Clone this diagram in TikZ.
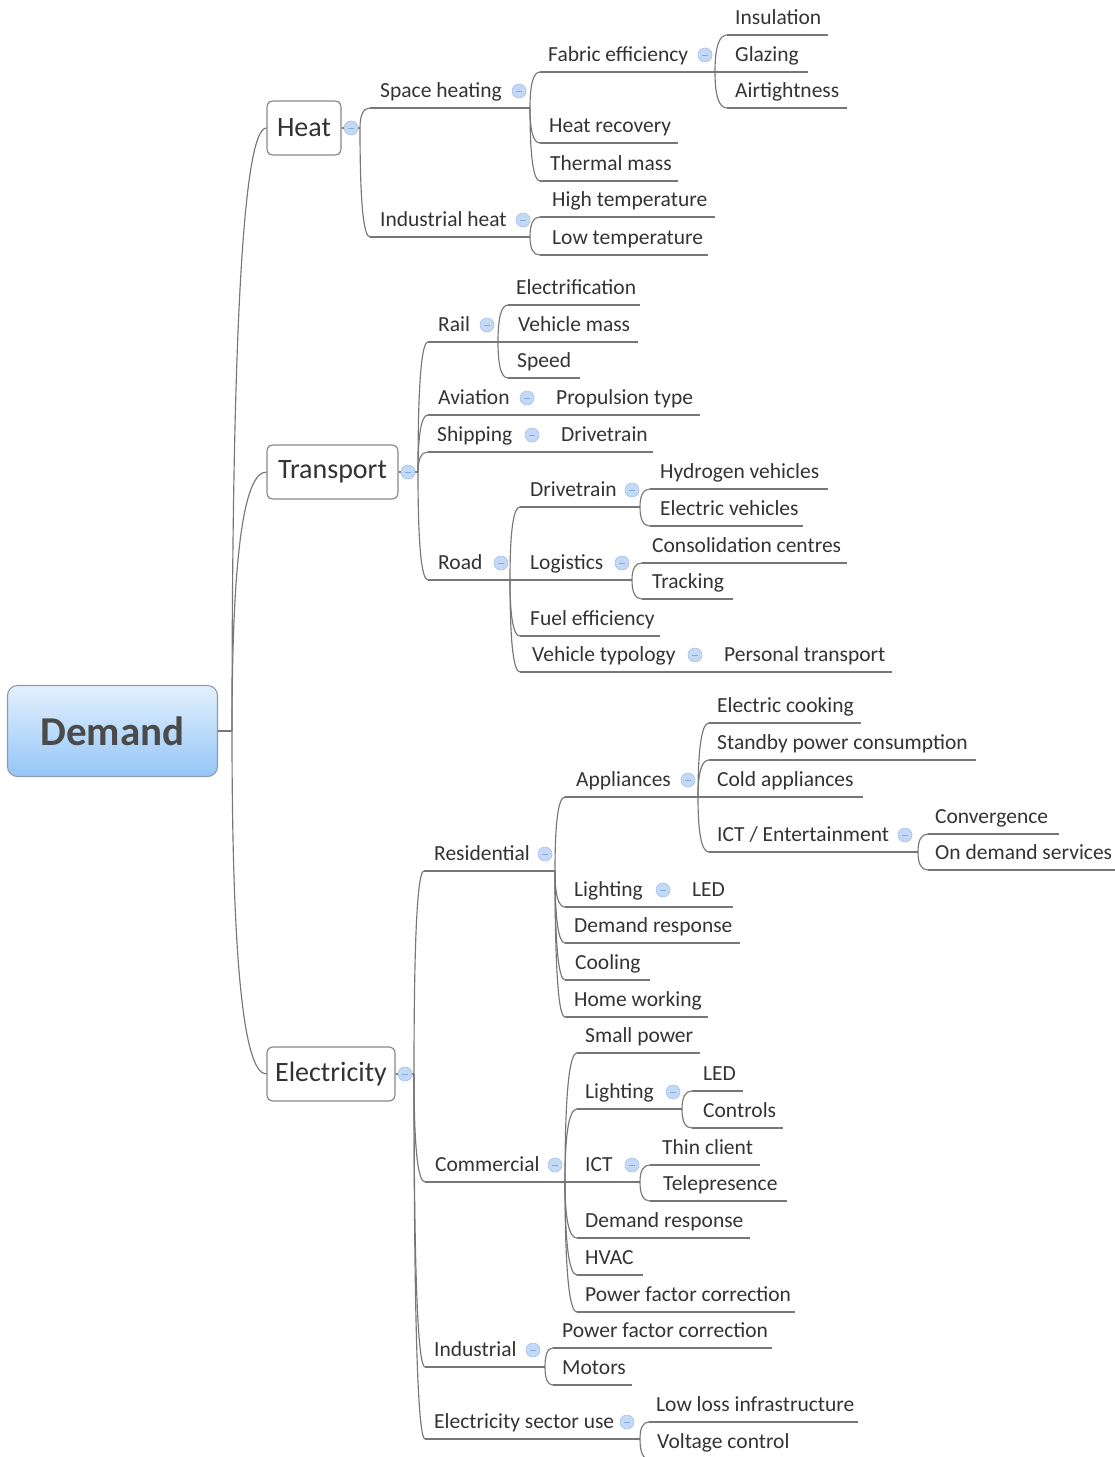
\documentclass[tikz,border=0pt]{standalone}
\usepackage{fontspec}
\setmainfont{Carlito}
\usetikzlibrary{calc}

\definecolor{txt}{HTML}{333333}
\definecolor{wirecol}{HTML}{777777}
\definecolor{boxline}{HTML}{888888}
\definecolor{foldfill}{HTML}{C4D9F6}
\definecolor{foldline}{HTML}{A6C0E8}
\definecolor{foldbar}{HTML}{86A8DA}
\definecolor{rootline}{HTML}{8C9CAE}
\definecolor{roottop}{HTML}{E3F0FD}
\definecolor{rootbot}{HTML}{95C6F7}
\definecolor{roottext}{HTML}{4A4A4A}

% a subtopic: name, text x, underline y, underline start x, underline end x, text
\newcommand\topicline[6]{%
  \coordinate (#1-s) at (#4,#3);
  \coordinate (#1-e) at (#5,#3);
  \draw[wire] (#1-s) -- (#1-e);
  \node[lbl] (#1) at (#2,#3-11) {#6};
}
% rounded elbow from a parent junction to a child
\newcommand\joinup[2]{%
  \draw[wire] (#1) .. controls ($(#1)!0.667!(#1|-#2)$) and ($(#2)!0.667!(#1|-#2)$) .. (#2);
}
% collapse marker
\newcommand\foldmark[3]{\node[fold] (#1-c) at (#2,#3) {};}

\begin{document}
\begin{tikzpicture}[x=1pt,y=-1pt,
  wire/.style={draw=wirecol, line width=1.15pt},
  lbl/.style={anchor=base west, inner sep=0pt, text=txt, font=\fontsize{21.5}{25}\selectfont},
  mainbox/.style={draw=boxline, line width=1.15pt, fill=white, rounded corners=6pt,
    minimum height=54pt, inner sep=0pt, text=txt, font=\fontsize{28}{33}\selectfont},
  rootbox/.style={draw=rootline, line width=1.1pt, rounded corners=10pt,
    top color=roottop, bottom color=rootbot, minimum width=210pt, minimum height=91pt,
    inner sep=0pt, text=roottext, font=\fontsize{41}{48}\selectfont\bfseries},
  fold/.style={circle, draw=foldline, fill=foldfill, line width=0.6pt, minimum size=14pt,
    inner sep=0pt, path picture={\draw[foldbar, line width=0.9pt]
      ([xshift=-3pt]path picture bounding box.center) -- ([xshift=3pt]path picture bounding box.center);}},
]
\useasboundingbox (0,0) rectangle (1115,1457);
\clip (0,0) rectangle (1115,1457);

% root and main topics
\node[rootbox] (demand) at (112.5,731) {Demand};
\node[mainbox, minimum width=74pt] (heat) at (304,128) {Heat};
\node[mainbox, minimum width=131pt] (transport) at (332.5,472) {Transport};
\node[mainbox, minimum width=128pt] (elec) at (331,1074) {Electricity};

\coordinate (demand-j) at (232,731);
\coordinate (heat-j) at (360,128);
\coordinate (transport-j) at (418,472);
\coordinate (elec-j) at (414,1074);

\draw[wire] (demand.east) -- (demand-j);
\joinup{demand-j}{heat.west}
\joinup{demand-j}{transport.west}
\joinup{demand-j}{elec.west}
\draw[wire] (heat.east) -- (heat-j);
\draw[wire] (transport.east) -- (transport-j);
\draw[wire] (elec.east) -- (elec-j);

% ---------------- Heat
\topicline{sh}{380}{108}{370}{530}{Space heating}
\topicline{fe}{548}{72}{540}{715}{Fabric efficiency}
\topicline{ins}{735}{35}{727}{828}{Insulation}
\topicline{gla}{735}{72}{727}{808}{Glazing}
\topicline{air}{735}{108}{727}{847}{Airtightness}
\topicline{hr}{549}{143}{540}{678}{Heat recovery}
\topicline{tm}{550}{181}{540}{678}{Thermal mass}
\topicline{ih}{380}{237}{370}{530}{Industrial heat}
\topicline{ht}{552}{217}{540}{715}{High temperature}
\topicline{lt}{552}{255}{540}{708}{Low temperature}

\joinup{heat-j}{sh-s}
\joinup{heat-j}{ih-s}
\joinup{sh-e}{fe-s}
\joinup{sh-e}{hr-s}
\joinup{sh-e}{tm-s}
\joinup{fe-e}{ins-s}
\joinup{fe-e}{gla-s}
\joinup{fe-e}{air-s}
\joinup{ih-e}{ht-s}
\joinup{ih-e}{lt-s}

% ---------------- Transport
\topicline{rail}{438}{342}{428}{498}{Rail}
\topicline{elf}{516}{305}{508}{640}{Electrification}
\topicline{vm}{518}{342}{508}{638}{Vehicle mass}
\topicline{spd}{517}{378}{508}{580}{Speed}
\topicline{avi}{438}{415}{428}{540}{Aviation}
\topicline{prop}{556}{415}{546}{700}{Propulsion type}
\topicline{ship}{437}{452}{428}{545}{Shipping}
\topicline{sdt}{561}{452}{551}{653}{Drivetrain}
\topicline{road}{438}{580}{428}{510}{Road}
\topicline{rdt}{530}{507}{520}{640}{Drivetrain}
\topicline{hyd}{660}{489}{650}{828}{Hydrogen vehicles}
\topicline{ev}{660}{526}{650}{803}{Electric vehicles}
\topicline{log}{530}{580}{520}{632}{Logistics}
\topicline{cons}{652}{563}{642}{847}{Consolidation centres}
\topicline{trk}{652}{599}{642}{733}{Tracking}
\topicline{fuel}{530}{636}{520}{660}{Fuel efficiency}
\topicline{vt}{532}{672}{520}{705}{Vehicle typology}
\topicline{pt}{724}{672}{714}{892}{Personal transport}

\joinup{transport-j}{rail-s}
\joinup{transport-j}{avi-s}
\joinup{transport-j}{ship-s}
\joinup{transport-j}{road-s}
\joinup{rail-e}{elf-s}
\joinup{rail-e}{vm-s}
\joinup{rail-e}{spd-s}
\joinup{avi-e}{prop-s}
\joinup{ship-e}{sdt-s}
\joinup{road-e}{rdt-s}
\joinup{road-e}{log-s}
\joinup{road-e}{fuel-s}
\joinup{road-e}{vt-s}
\joinup{rdt-e}{hyd-s}
\joinup{rdt-e}{ev-s}
\joinup{log-e}{cons-s}
\joinup{log-e}{trk-s}
\joinup{vt-e}{pt-s}

% ---------------- Electricity
\topicline{res}{434}{871}{424}{555}{Residential}
\topicline{app}{576}{797}{565}{698}{Appliances}
\topicline{ec}{717}{723}{709}{861}{Electric cooking}
\topicline{sb}{717}{760}{709}{976}{Standby power consumption}
\topicline{ca}{717}{797}{709}{863}{Cold appliances}
\topicline{ict}{717}{852}{709}{918}{ICT / Entertainment}
\topicline{conv}{935}{834}{928}{1059}{Convergence}
\topicline{ods}{935}{870}{928}{1115}{On demand services}
\topicline{rl}{574}{907}{565}{675}{Lighting}
\topicline{rled}{692}{907}{683}{733}{LED}
\topicline{rdr}{574}{943}{565}{740}{Demand response}
\topicline{cool}{575}{980}{565}{650}{Cooling}
\topicline{hw}{574}{1017}{565}{708}{Home working}
\topicline{com}{435}{1182}{425}{565}{Commercial}
\topicline{sp}{585}{1053}{577}{700}{Small power}
\topicline{cl}{585}{1109}{577}{682}{Lighting}
\topicline{cled}{703}{1091}{692}{743}{LED}
\topicline{ctl}{703}{1128}{692}{783}{Controls}
\topicline{cict}{585}{1182}{577}{640}{ICT}
\topicline{thin}{662}{1165}{650}{760}{Thin client}
\topicline{tele}{663}{1201}{650}{787}{Telepresence}
\topicline{cdr}{585}{1238}{577}{750}{Demand response}
\topicline{hvac}{585}{1275}{577}{643}{HVAC}
\topicline{cpf}{585}{1312}{577}{795}{Power factor correction}
\topicline{ind}{434}{1367}{425}{545}{Industrial}
\topicline{ipf}{562}{1348}{553}{772}{Power factor correction}
\topicline{mot}{562}{1385}{553}{632}{Motors}
\topicline{esu}{434}{1439}{425}{640}{Electricity sector use}
\topicline{lli}{656}{1422}{649}{858}{Low loss infrastructure}
\topicline{vc}{657}{1459}{649}{800}{Voltage control}

\joinup{elec-j}{res-s}
\joinup{elec-j}{com-s}
\joinup{elec-j}{ind-s}
\joinup{elec-j}{esu-s}
\joinup{res-e}{app-s}
\joinup{res-e}{rl-s}
\joinup{res-e}{rdr-s}
\joinup{res-e}{cool-s}
\joinup{res-e}{hw-s}
\joinup{app-e}{ec-s}
\joinup{app-e}{sb-s}
\joinup{app-e}{ca-s}
\joinup{app-e}{ict-s}
\joinup{ict-e}{conv-s}
\joinup{ict-e}{ods-s}
\joinup{rl-e}{rled-s}
\joinup{com-e}{sp-s}
\joinup{com-e}{cl-s}
\joinup{com-e}{cict-s}
\joinup{com-e}{cdr-s}
\joinup{com-e}{hvac-s}
\joinup{com-e}{cpf-s}
\joinup{cl-e}{cled-s}
\joinup{cl-e}{ctl-s}
\joinup{cict-e}{thin-s}
\joinup{cict-e}{tele-s}
\joinup{ind-e}{ipf-s}
\joinup{ind-e}{mot-s}
\joinup{esu-e}{lli-s}
\joinup{esu-e}{vc-s}

% collapse markers
\foldmark{heat}{351}{128}
\foldmark{transport}{408}{472}
\foldmark{elec}{405}{1074}
\foldmark{sh}{519}{91}
\foldmark{fe}{705}{55}
\foldmark{ih}{523}{220}
\foldmark{rail}{487}{325}
\foldmark{avi}{527}{398}
\foldmark{ship}{532}{435}
\foldmark{road}{501}{563}
\foldmark{rdt}{632}{490}
\foldmark{log}{622}{563}
\foldmark{vt}{695}{655}
\foldmark{res}{545}{854}
\foldmark{app}{688}{780}
\foldmark{ict}{905}{835}
\foldmark{rl}{663}{890}
\foldmark{com}{555}{1165}
\foldmark{cl}{673}{1092}
\foldmark{cict}{632}{1165}
\foldmark{ind}{533}{1350}
\foldmark{esu}{627}{1422}
\end{tikzpicture}
\end{document}
